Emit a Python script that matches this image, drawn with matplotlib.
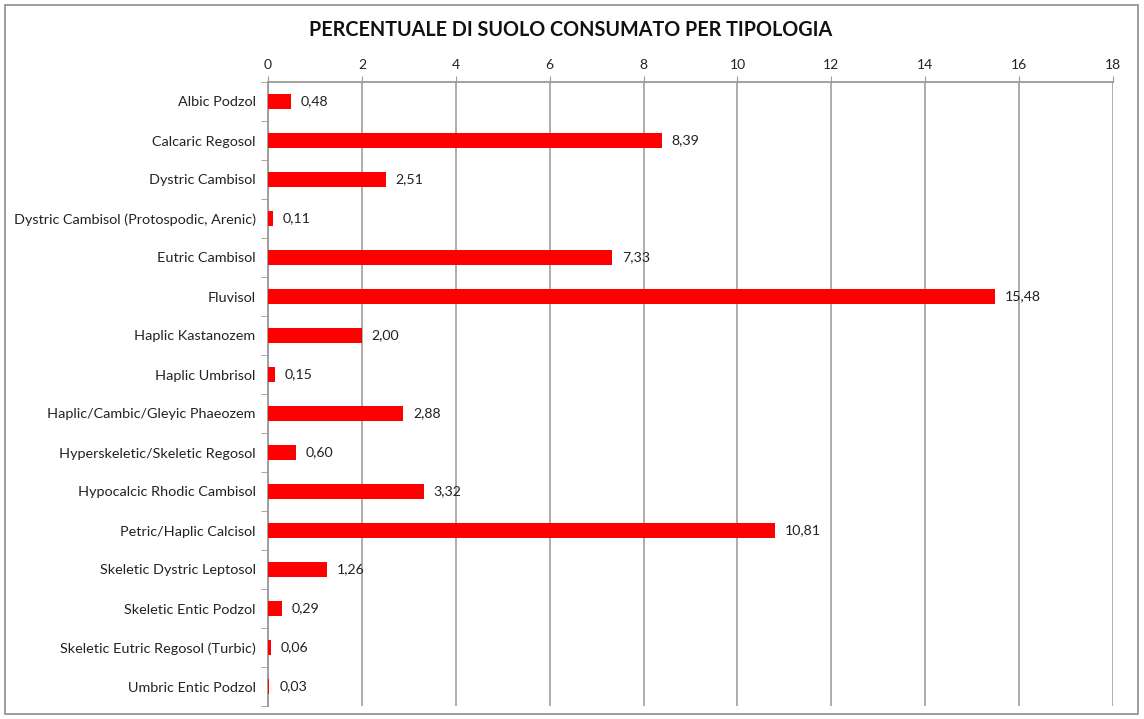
import matplotlib
matplotlib.use("Agg")
import matplotlib.pyplot as plt
from matplotlib.patches import Rectangle
import numpy as np

categories = [
    "Albic Podzol",
    "Calcaric Regosol",
    "Dystric Cambisol",
    "Dystric Cambisol (Protospodic, Arenic)",
    "Eutric Cambisol",
    "Fluvisol",
    "Haplic Kastanozem",
    "Haplic Umbrisol",
    "Haplic/Cambic/Gleyic Phaeozem",
    "Hyperskeletic/Skeletic Regosol",
    "Hypocalcic Rhodic Cambisol",
    "Petric/Haplic Calcisol",
    "Skeletic Dystric Leptosol",
    "Skeletic Entic Podzol",
    "Skeletic Eutric Regosol (Turbic)",
    "Umbric Entic Podzol",
]
values = [0.48, 8.39, 2.51, 0.11, 7.33, 15.48, 2.00, 0.15, 2.88, 0.60,
          3.32, 10.81, 1.26, 0.29, 0.06, 0.03]
x_ticks = [0, 2, 4, 6, 8, 10, 12, 14, 16, 18]
title = "PERCENTUALE DI SUOLO CONSUMATO PER TIPOLOGIA"

plt.rcParams['font.family'] = ['Lato', 'DejaVu Sans']

fig = plt.figure(figsize=(11.44, 7.19), dpi=100)
fig.patch.set_facecolor("white")
fig.patches.append(Rectangle((5/1144, 1 - 714/719), 1133/1144, 709/719,
                             transform=fig.transFigure, fill=False,
                             edgecolor="#8c8c8c", linewidth=1.2))

ax = fig.add_axes([268/1144, 1 - 706/719, (1113 - 268)/1144, (706 - 82)/719])
n = len(categories)
y = np.arange(n)
ax.barh(y, values, height=0.4, color="#ff0000", zorder=3)
ax.set_ylim(n - 0.5, -0.5)
ax.set_xlim(0, 18)
ax.set_xticks(x_ticks)
ax.xaxis.tick_top()
ax.set_xticklabels([str(t) for t in x_ticks], fontsize=10, color="#222222")
ax.tick_params(axis='x', length=4, color="#9a9a9a", pad=4)

ax.set_yticks(y)
ax.set_yticklabels(categories, fontsize=10.4, color="#222222")
ax.tick_params(axis='y', which='major', length=0, pad=9)
ax.set_yticks(np.arange(-0.5, n, 1), minor=True)
ax.tick_params(axis='y', which='minor', length=5, color="#9a9a9a")

ax.grid(axis='x', color="#a6a6a6", linewidth=1.3, zorder=0)
for s in ['right', 'bottom']:
    ax.spines[s].set_visible(False)
for s in ['top', 'left']:
    ax.spines[s].set_color("#9a9a9a")
    ax.spines[s].set_linewidth(1.3)

for yi, v in zip(y, values):
    ax.annotate(f"{v:.2f}".replace(".", ","), (v, yi), xytext=(7, 0),
                textcoords="offset points", va="center", ha="left",
                fontsize=10.2, color="#222222")

fig.text(571/1144, 1 - 30/719, title, ha="center", va="center",
         fontsize=14.2, fontweight="bold", color="#111111")

fig.savefig("out.png", dpi=100, facecolor="white")
